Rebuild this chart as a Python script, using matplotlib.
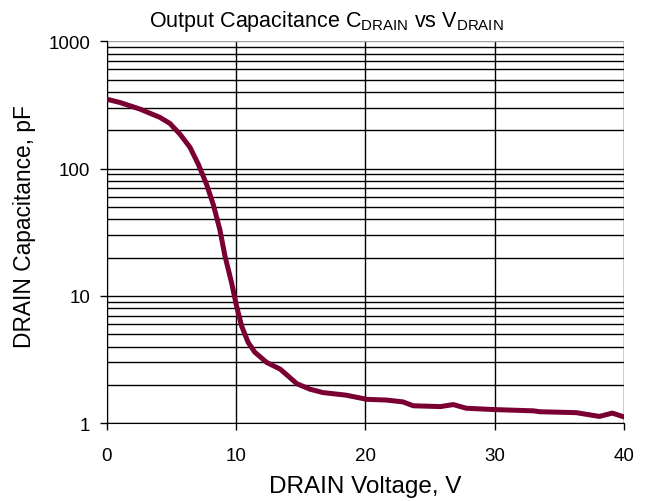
import matplotlib
matplotlib.use("Agg")
import matplotlib.pyplot as plt
from matplotlib.ticker import LogLocator, NullFormatter

plt.rcParams['font.family'] = ['Liberation Sans', 'DejaVu Sans']
plt.rcParams['mathtext.fontset'] = 'custom'
plt.rcParams['mathtext.rm'] = 'Liberation Sans'

voltage = [0, 1.0, 2.55, 4.1, 4.87, 5.65, 6.42, 7.07, 7.71, 8.23, 8.74, 9.13, 9.64, 10.03,
           10.42, 10.93, 11.45, 12.36, 13.4, 14.7, 15.7, 16.7, 18.5, 20.1, 21.6, 22.9,
           23.7, 25.8, 26.8, 27.8, 29.9, 33.0, 33.5, 36.3, 38.1, 39.1, 40]
capacitance = [350, 330, 293, 252, 226, 186, 147, 108, 75, 52, 33, 20.6, 12.7, 8.3,
               5.8, 4.3, 3.6, 3.0, 2.66, 2.04, 1.85, 1.74, 1.66, 1.54, 1.52, 1.47,
               1.37, 1.35, 1.40, 1.31, 1.28, 1.25, 1.23, 1.21, 1.13, 1.20, 1.12]

x_ticks = [0, 10, 20, 30, 40]
y_ticks = [1, 10, 100, 1000]
y_labels = ['1', '10', '100', '1000']

fig = plt.figure(figsize=(6.52, 5.02), dpi=100)
ax = fig.add_axes([0.164, 0.155, 0.793, 0.761])

ax.plot(voltage, capacitance, color='#7a0033', lw=3.6, solid_capstyle='round',
        solid_joinstyle='round', zorder=3)
ax.set_yscale('log')
ax.set_xlim(0, 40)
ax.set_ylim(1, 1000)

ax.set_xticks(x_ticks)
ax.set_yticks(y_ticks)
ax.set_yticklabels(y_labels)
ax.yaxis.set_minor_locator(LogLocator(base=10, subs=range(2, 10)))
ax.yaxis.set_minor_formatter(NullFormatter())
ax.grid(True, which='both', axis='y', color='black', lw=1.0)
ax.grid(True, which='major', axis='x', color='black', lw=1.0)
ax.tick_params(axis='y', which='minor', length=0)
ax.tick_params(axis='both', which='major', direction='out', length=5, width=1,
               labelsize=13.5, colors='black')
ax.tick_params(axis='x', pad=12)
ax.tick_params(axis='y', pad=7)

for s in ['top', 'right']:
    ax.spines[s].set_visible(False)
ax.spines['left'].set_color('black')
ax.spines['bottom'].set_color('black')

fig.canvas.draw()
ax.yaxis.get_major_ticks()[-1].gridline.set_color('#a0a0a0')

ax.set_xlabel('DRAIN Voltage, V', fontsize=17.5, labelpad=8)
ax.set_ylabel('DRAIN Capacitance, pF', fontsize=16.4)
ax.yaxis.set_label_coords(-0.137, 0.518)
fig.suptitle(r'Output Capacitance C$_{\mathregular{DRAIN}}$ vs V$_{\mathregular{DRAIN}}$',
             fontsize=15.5, x=0.5, y=0.982, va='top')

fig.savefig('out.png', dpi=100)
